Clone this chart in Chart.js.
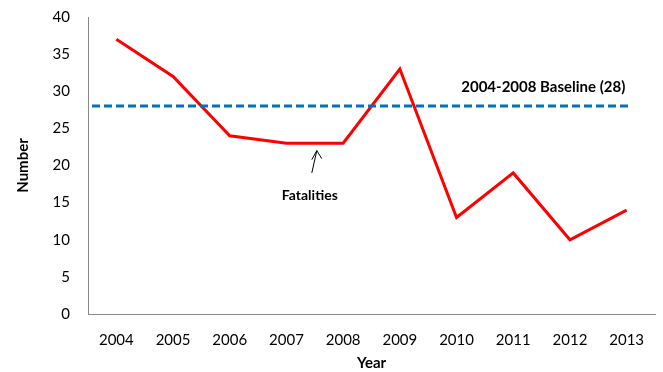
<!DOCTYPE html>
<html>
<head>
<meta charset="utf-8">
<script src="https://cdn.jsdelivr.net/npm/chart.js@4"></script>
<style>
  html, body { margin: 0; padding: 0; background: #fff; }
  #wrap { width: 663px; height: 372px; position: relative; }
</style>
</head>
<body>
<div id="wrap"><canvas id="chart"></canvas></div>
<script>
const years = ['2004', '2005', '2006', '2007', '2008', '2009', '2010', '2011', '2012', '2013'];
const fatalities = [37, 32, 24, 23, 23, 33, 13, 19, 10, 14];
const baseline = 28;
const baselineLabel = '2004-2008 Baseline (28)';
const noteLabel = 'Fatalities';

const fontFamily = 'Lato, "Open Sans", sans-serif';

// Línea base y anotación
const extras = {
    id: 'extras',
    afterDatasetsDraw(chart) {
        const ctx = chart.ctx;
        const x = chart.scales.x;
        const y = chart.scales.y;
        const yb = y.getPixelForValue(baseline);
        ctx.save();
        ctx.strokeStyle = '#0070C0';
        ctx.lineWidth = 3;
        ctx.setLineDash([8, 4]);
        ctx.beginPath();
        ctx.moveTo(chart.chartArea.left + 4, yb);
        ctx.lineTo(x.getPixelForValue(years.length - 1) + 2, yb);
        ctx.stroke();
        ctx.setLineDash([]);

        ctx.fillStyle = '#000';
        ctx.font = 'bold 15px ' + fontFamily;
        ctx.textAlign = 'center';
        ctx.textBaseline = 'middle';
        ctx.fillText(baselineLabel, x.getPixelForValue(7.53), yb - 19);

        // flecha
        ctx.font = 'bold 14px ' + fontFamily;
        const ax = (x.getPixelForValue(3) + x.getPixelForValue(4)) / 2;
        const tipY = y.getPixelForValue(22.0);
        const tailY = y.getPixelForValue(19.0);
        const tipX = ax + 2, tailX = ax - 3;
        ctx.strokeStyle = '#000';
        ctx.lineWidth = 1;
        ctx.beginPath();
        ctx.moveTo(tailX, tailY);
        ctx.lineTo(tipX, tipY);
        ctx.moveTo(tipX - 5, tipY + 9);
        ctx.lineTo(tipX, tipY);
        ctx.lineTo(tipX + 5, tipY + 8);
        ctx.stroke();
        ctx.fillText(noteLabel, ax - 5, y.getPixelForValue(15.9));
        ctx.restore();
    }
};

new Chart(document.getElementById('chart').getContext('2d'), {
    type: 'line',
    data: {
        labels: years,
        datasets: [{
            label: 'Fatalities',
            data: fatalities,
            borderColor: '#FF0000',
            borderWidth: 3,
            pointRadius: 0,
            tension: 0,
            fill: false
        }]
    },
    options: {
        responsive: true,
        maintainAspectRatio: false,
        animation: false,
        layout: { padding: { top: 0, right: 8, left: 0, bottom: 0 } },
        plugins: { legend: { display: false }, tooltip: { enabled: false } },
        scales: {
            x: {
                offset: true,
                grid: { display: false, drawTicks: false },
                border: { display: true, color: '#888', width: 1 },
                ticks: { color: '#000', padding: 17, maxRotation: 0, font: { family: fontFamily, size: 15 } },
                title: { display: true, text: 'Year', color: '#000', padding: { top: 0, bottom: 0 }, font: { family: fontFamily, size: 15, weight: 'bold' } },
                afterFit(scale) { scale.height = 58; }
            },
            y: {
                min: 0,
                max: 40,
                grid: { display: false, drawTicks: false },
                border: { display: true, color: '#888', width: 1 },
                ticks: { stepSize: 5, color: '#000', padding: 18, font: { family: fontFamily, size: 15 } },
                title: { display: true, text: 'Number', color: '#000', padding: { top: 14, bottom: 0 }, font: { family: fontFamily, size: 15, weight: 'bold' } },
                afterFit(scale) {
                    scale.width = 88;
                    scale.paddingTop = 17;
                    scale.paddingBottom = 0;
                }
            }
        }
    },
    plugins: [extras]
});
</script>
</body>
</html>
